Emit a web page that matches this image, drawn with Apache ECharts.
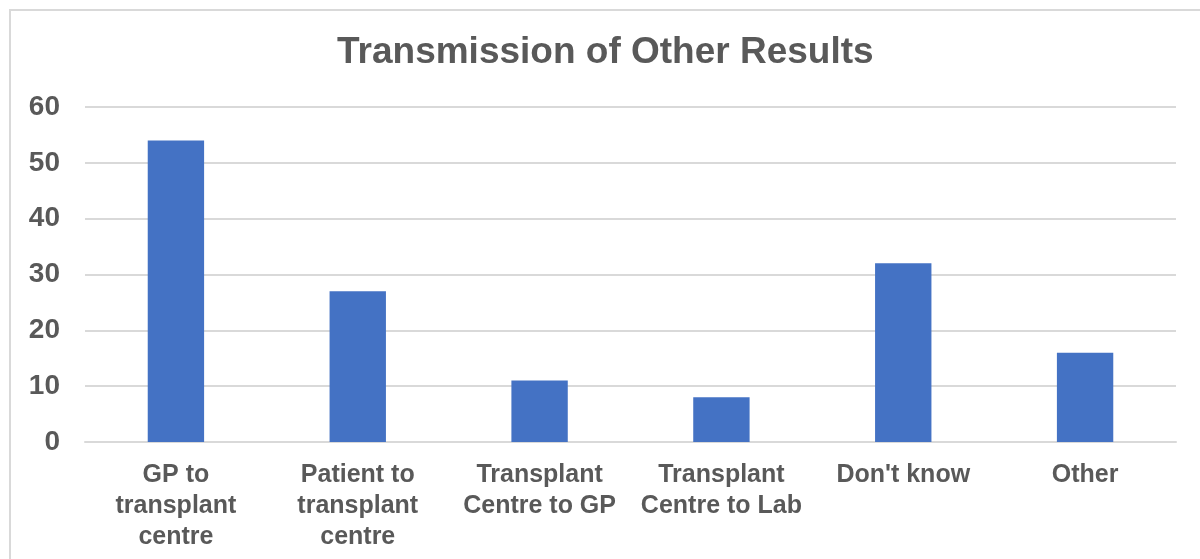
<!doctype html>
<html lang="en">
<head>
  <meta charset="utf-8">
  <title>Transmission of Other Results</title>
  <script src="https://cdn.jsdelivr.net/npm/echarts@6/dist/echarts.min.js"></script>
  <style>
    html, body { margin: 0; padding: 0; width: 100%; height: 100%; background: #fff; }
    #chart { width: 1200px; height: 559px; }
  </style>
</head>
<body>
  <div id="chart"></div>
  <script>
    // data
    var categories = ['GP to\ntransplant\ncentre', 'Patient to\ntransplant\ncentre', 'Transplant\nCentre to GP', 'Transplant\nCentre to Lab', "Don't know", 'Other'];
    var counts = [54, 27, 11, 8, 32, 16];

    var myChart = echarts.init(document.getElementById('chart'));

    var option = {
      backgroundColor: '#fff',
      animation: false,
      title: {
        text: 'Transmission of Other Results',
        left: 332,
        top: 29,
        textStyle: {
          fontFamily: 'Liberation Sans',
          fontSize: 37,
          fontWeight: 'bold',
          color: '#595959'
        }
      },
      // outer chart border
      graphic: [{
        type: 'rect',
        shape: { x: 10, y: 10, width: 1200, height: 560 },
        style: { fill: 'none', stroke: '#d9d9d9', lineWidth: 2 },
        silent: true
      }],
      grid: { left: 85, right: 24, top: 107, bottom: 117 },
      xAxis: {
        type: 'category',
        data: categories,
        axisLine: { lineStyle: { color: '#d9d9d9', width: 2 } },
        axisTick: { show: false },
        axisLabel: {
          interval: 0,
          margin: 18,
          fontFamily: 'Liberation Sans',
          fontSize: 25,
          fontWeight: 'bold',
          color: '#595959',
          lineHeight: 31
        }
      },
      yAxis: {
        type: 'value',
        min: 0,
        max: 60,
        interval: 10,
        axisLine: { show: false },
        axisTick: { show: false },
        splitLine: { lineStyle: { color: '#d9d9d9', width: 2 } },
        axisLabel: {
          margin: 25,
          fontFamily: 'Liberation Sans',
          fontSize: 28,
          fontWeight: 'bold',
          color: '#595959'
        }
      },
      series: [{
        type: 'bar',
        data: counts,
        barWidth: '31%',
        itemStyle: { color: '#4472C4' }
      }]
    };
    myChart.setOption(option);
  </script>
</body>
</html>
